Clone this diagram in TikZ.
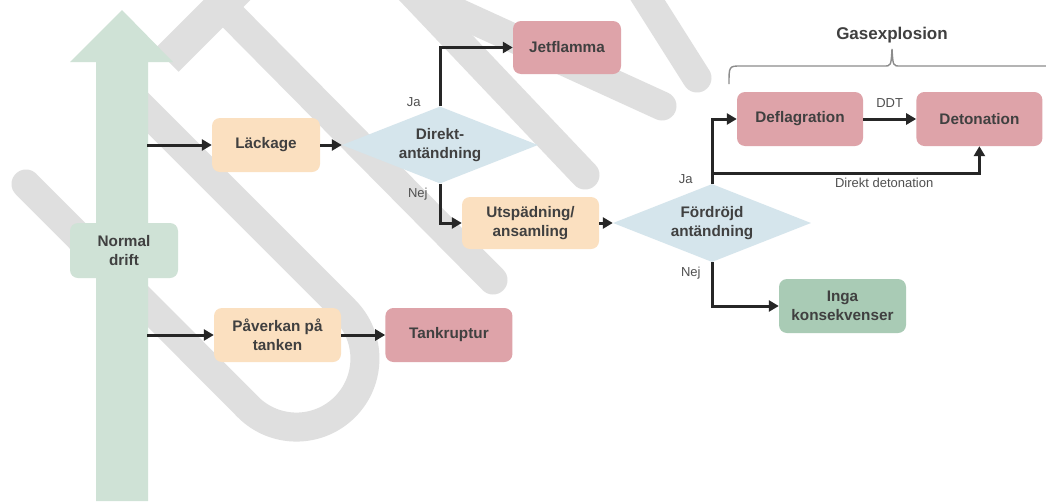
\documentclass[tikz,border=0pt]{standalone}
\usepackage{fontspec}
\setmainfont{Liberation Sans}
\usepackage{xcolor}
\usepackage{tikz}
\usetikzlibrary{arrows.meta}
\usetikzlibrary{shapes.geometric}
\usetikzlibrary{positioning}
\definecolor{driftgreen}{RGB}{207,226,214}
\definecolor{peach}{RGB}{251,224,192}
\definecolor{hazard}{RGB}{222,163,169}
\definecolor{question}{RGB}{213,229,236}
\definecolor{safegreen}{RGB}{169,203,181}
\definecolor{boxtext}{RGB}{64,64,64}
\definecolor{lbltext}{RGB}{80,80,80}
\definecolor{linedark}{RGB}{38,38,38}
\definecolor{bracegray}{RGB}{140,140,140}
\definecolor{wmgray}{RGB}{223,223,223}
\tikzset{>={Triangle[length=10pt,width=11pt]}}
\tikzset{
  box/.style={rectangle, rounded corners=8pt, inner sep=0pt, align=center,
    minimum height=54pt, text=boxtext, font=\bfseries\fontsize{15.3}{19}\selectfont},
  proc/.style={box, fill=peach},
  fail/.style={box, fill=hazard},
  calm/.style={box, fill=safegreen},
  decision/.style={diamond, aspect=2.5, inner sep=0pt, fill=question, align=center,
    text=boxtext, font=\bfseries\fontsize{15.3}{19}\selectfont},
  lbl/.style={inner sep=0pt, text=lbltext, font=\fontsize{13}{15}\selectfont},
  conn/.style={->, line width=3pt, draw=linedark}
}

\begin{document}
\begin{tikzpicture}[x=1pt,y=-1pt]
  \useasboundingbox[fill=white] (0,0) rectangle (1046,501);

  % watermark
  \begin{scope}
    \clip (0,0) rectangle (1046,501);
    \draw[wmgray, line width=33pt, line cap=butt] (167,60) -- (276,-49);
    \draw[wmgray, line width=29pt, line cap=round] (221,5) -- (493,280);
    \draw[wmgray, line width=29pt, line cap=round] (26,184) -- (248,407)
      arc[start angle=135, end angle=-45, radius=68.5] -- (118,83);
    \draw[wmgray, line width=29pt, line cap=round] (400,-20) -- (585,175);
    \draw[wmgray, line width=29pt, line cap=round] (430,0) -- (662,106);
    \draw[wmgray, line width=29pt, line cap=round] (635,-20) -- (697,78);
  \end{scope}

  % normal drift arrow
  \fill[driftgreen] (96,501) -- (96,62) -- (70,62) -- (122,10) -- (173,62)
    -- (148,62) -- (148,501) -- cycle;
  \node[box, fill=driftgreen, minimum width=108pt, minimum height=55pt] (normal) at (124,250.5) {Normal\\drift};
  \coordinate (s1) at (147,145);
  \coordinate (s2) at (147,335);

  % nodes
  \node[proc, minimum width=108pt] (lack) at (266,145) {Läckage};
  \node[decision, minimum width=196pt, minimum height=77pt] (direkt) at (440,145) {Direkt-\\antändning};
  \node[fail, minimum width=108pt, minimum height=53pt] (jet) at (567,47.5) {Jetflamma};
  \node[proc, minimum width=137pt, minimum height=52pt] (utsp) at (530.5,223) {Utspädning/\\ansamling};
  \node[decision, minimum width=198pt, minimum height=78pt] (ford) at (712,223) {Fördröjd\\antändning};
  \node[fail, minimum width=126pt] (defl) at (800,119) {Deflagration};
  \node[fail, minimum width=126pt, right=53pt of defl] (deto) {Detonation};
  \node[calm, minimum width=127pt] (inga) at (842.5,306) {Inga\\konsekvenser};
  \node[proc, minimum width=127pt] (pav) at (277.5,335) {Påverkan på\\tanken};
  \node[fail, minimum width=127pt, right=44pt of pav] (tank) {Tankruptur};
  \coordinate (jpt) at (712,173);

  % connectors
  \draw[conn] (s1) -- (lack);
  \draw[conn] (lack) -- (direkt);
  \draw[conn] (direkt.north) node[lbl, anchor=base east, xshift=-18pt] {Ja} |- (jet.west);
  \draw[conn] (direkt.south) node[lbl, anchor=base east, xshift=-11pt, yshift=-14pt] {Nej} |- (utsp.west);
  \draw[conn] (utsp) -- (ford);
  \draw[conn] (ford.north) node[lbl, anchor=base east, xshift=-18pt] {Ja} |- (defl.west);
  \draw[conn] (jpt) -| node[lbl, pos=0.322, below=4pt] {Direkt detonation} (deto.south);
  \draw[conn] (defl) -- node[lbl, above=10pt] {DDT} (deto);
  \draw[conn] (ford.south) node[lbl, anchor=base east, xshift=-10pt, yshift=-14pt] {Nej} |- (inga.west);
  \draw[conn] (s2) -- (pav);
  \draw[conn] (pav) -- (tank);

  % gasexplosion brace
  \draw[bracegray, line width=1.4pt] (729,84) .. controls (729,66) .. (741,66) -- (884,66)
    .. controls (891,66) .. (892,49) .. controls (893,66) .. (900,66) -- (1060,66);
  \node[inner sep=0pt, text=boxtext, font=\bfseries\fontsize{17}{20}\selectfont] (gas) at (892,35) {Gasexplosion};
\end{tikzpicture}
\end{document}
